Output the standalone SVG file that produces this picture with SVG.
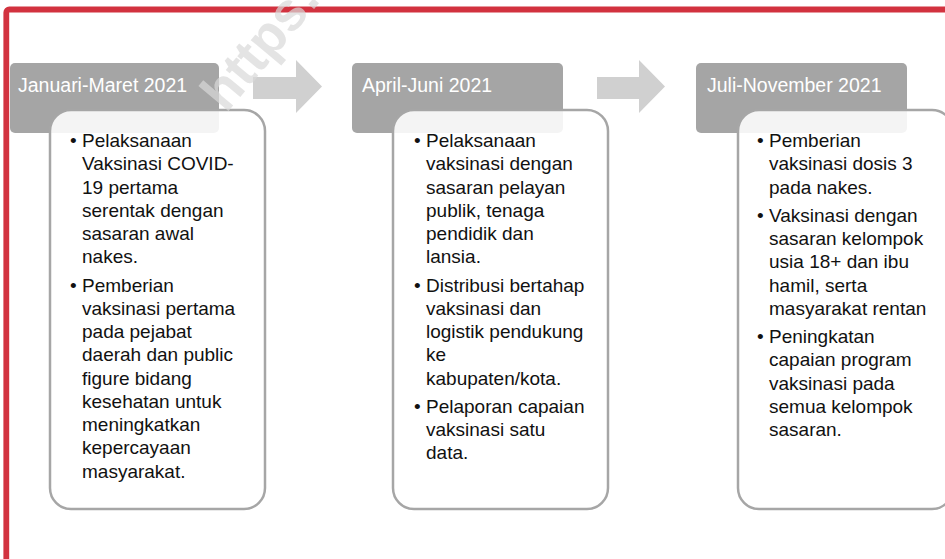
<svg xmlns="http://www.w3.org/2000/svg" width="945" height="559" viewBox="0 0 945 559">
<style>
.frame{fill:none;stroke:#d2323f;stroke-width:5.8}
.hdr{fill:#a5a5a5}
.hdrtxt{font-family:"Liberation Sans",Arial,sans-serif;font-size:19.5px;fill:#ffffff}
.body{fill:#ffffff;fill-opacity:0.88;stroke:#a6a6a6;stroke-width:2.5}
.txt{font-family:"Liberation Sans",Arial,sans-serif;font-size:19px;fill:#111111}
.arrow{fill:#d0d0d0}
.wm{font-family:"Liberation Sans",Arial,sans-serif;font-size:54px;font-weight:bold;fill:#d8d8d8;fill-opacity:0.7}
</style>
<rect x="0" y="0" width="945" height="559" fill="#ffffff"/>
<rect class="frame" x="6.3" y="9.5" width="1000" height="620" rx="3"/>

<g id="connectors">
  <polygon class="arrow" points="253,77 296,77 296,60 322,86.5 296,113 296,99 253,99"/>
  <polygon class="arrow" points="597,77 639,77 639,60 665,86.5 639,113 639,99 597,99"/>
</g>

<g id="node-jan-mar">
  <rect class="hdr" x="10" y="63" width="209" height="70" rx="5"/>
  <text class="hdrtxt" x="18" y="92">Januari-Maret 2021</text>
  <rect class="body" x="50" y="110" width="215" height="399" rx="21"/>
  <text class="txt" x="70" y="147">•</text>
  <text class="txt" x="70" y="291.5">•</text>
  <text class="txt">
    <tspan x="82" y="147">Pelaksanaan</tspan>
    <tspan x="82" y="170.25">Vaksinasi COVID-</tspan>
    <tspan x="82" y="193.5">19 pertama</tspan>
    <tspan x="82" y="216.75">serentak dengan</tspan>
    <tspan x="82" y="240">sasaran awal</tspan>
    <tspan x="82" y="263.25">nakes.</tspan>
    <tspan x="82" y="291.5">Pemberian</tspan>
    <tspan x="82" y="314.75">vaksinasi pertama</tspan>
    <tspan x="82" y="338">pada pejabat</tspan>
    <tspan x="82" y="361.25">daerah dan public</tspan>
    <tspan x="82" y="384.5">figure bidang</tspan>
    <tspan x="82" y="407.75">kesehatan untuk</tspan>
    <tspan x="82" y="431">meningkatkan</tspan>
    <tspan x="82" y="454.25">kepercayaan</tspan>
    <tspan x="82" y="477.5">masyarakat.</tspan>
  </text>
</g>

<g id="node-apr-jun">
  <rect class="hdr" x="352" y="63" width="211" height="70" rx="5"/>
  <text class="hdrtxt" x="362" y="92">April-Juni 2021</text>
  <rect class="body" x="393" y="110" width="215" height="399" rx="21"/>
  <text class="txt" x="414" y="147">•</text>
  <text class="txt" x="414" y="291.5">•</text>
  <text class="txt" x="414" y="412.75">•</text>
  <text class="txt">
    <tspan x="426" y="147">Pelaksanaan</tspan>
    <tspan x="426" y="170.25">vaksinasi dengan</tspan>
    <tspan x="426" y="193.5">sasaran pelayan</tspan>
    <tspan x="426" y="216.75">publik, tenaga</tspan>
    <tspan x="426" y="240">pendidik dan</tspan>
    <tspan x="426" y="263.25">lansia.</tspan>
    <tspan x="426" y="291.5">Distribusi bertahap</tspan>
    <tspan x="426" y="314.75">vaksinasi dan</tspan>
    <tspan x="426" y="338">logistik pendukung</tspan>
    <tspan x="426" y="361.25">ke</tspan>
    <tspan x="426" y="384.5">kabupaten/kota.</tspan>
    <tspan x="426" y="412.75">Pelaporan capaian</tspan>
    <tspan x="426" y="436">vaksinasi satu</tspan>
    <tspan x="426" y="459.25">data.</tspan>
  </text>
</g>

<g id="node-jul-nov">
  <rect class="hdr" x="696" y="63" width="211" height="70" rx="5"/>
  <text class="hdrtxt" x="707" y="92">Juli-November 2021</text>
  <rect class="body" x="738" y="110" width="215" height="399" rx="21"/>
  <text class="txt" x="757" y="147">•</text>
  <text class="txt" x="757" y="221.75">•</text>
  <text class="txt" x="757" y="343">•</text>
  <text class="txt">
    <tspan x="769" y="147">Pemberian</tspan>
    <tspan x="769" y="170.25">vaksinasi dosis 3</tspan>
    <tspan x="769" y="193.5">pada nakes.</tspan>
    <tspan x="769" y="221.75">Vaksinasi dengan</tspan>
    <tspan x="769" y="245">sasaran kelompok</tspan>
    <tspan x="769" y="268.25">usia 18+ dan ibu</tspan>
    <tspan x="769" y="291.5">hamil, serta</tspan>
    <tspan x="769" y="314.75">masyarakat rentan</tspan>
    <tspan x="769" y="343">Peningkatan</tspan>
    <tspan x="769" y="366.25">capaian program</tspan>
    <tspan x="769" y="389.5">vaksinasi pada</tspan>
    <tspan x="769" y="412.75">semua kelompok</tspan>
    <tspan x="769" y="436">sasaran.</tspan>
  </text>
</g>

<text class="wm" x="226" y="114" transform="rotate(-50 226 114)">https:</text>
</svg>
